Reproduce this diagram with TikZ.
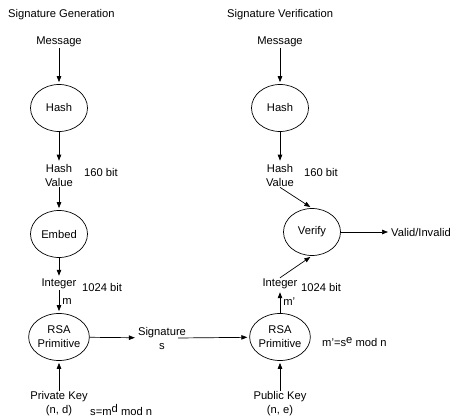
\documentclass[tikz,border=0pt]{standalone}
\usepackage{fontspec}
\setmainfont{Liberation Sans}
\usetikzlibrary{arrows.meta,shapes.geometric}

\begin{document}
\begin{tikzpicture}[
    x=1pt, y=-1pt,
    >={Triangle[length=6pt,width=4.5pt]},
    every node/.style={font=\fontsize{11.2}{14}\selectfont,align=center,inner sep=1pt},
    proc/.style={draw,ellipse,minimum width=57pt,minimum height=47pt,inner sep=0pt,line width=0.7pt},
    link/.style={->,line width=0.7pt,shorten >=2pt},
    note/.style={anchor=west},
]
\useasboundingbox (0,0) rectangle (460,419);

\node[note] (titleGen) at (7,15) {Signature Generation};
\node[note] (titleVer) at (226,15) {Signature Verification};

% Generation side
\node (msgA) at (59,42) {Message};
\node[proc] (hashA) at (59,108) {Hash};
\node (hvA) at (59,175) {Hash\\Value};
\node[proc] (embed) at (59,234) {Embed};
\node (intA) at (59,284) {Integer};
\node[proc] (rsaA) at (59,337) {RSA\\Primitive};
\node (privkey) at (59,404) {Private Key\\(n, d)};

\node[note] (bitsA) at (83,172) {160 bit};
\node[note] (wideA) at (81,287) {1024 bit};
\node[note] (signEq) at (89,410) {s=m\raisebox{3.5pt}{d} mod n};

\draw[link] (msgA) -- (hashA);
\draw[link] (hashA) -- (hvA);
\draw[link] (hvA) -- (embed);
\draw[link] (embed) -- (intA);
\draw[link] (intA) -- (rsaA) node[midway,right,inner sep=3pt] {m};
\draw[link] (privkey) -- (rsaA);

% Signature s
\node (sig) at (162,338) {Signature\\s};
\draw[link] (rsaA) -- (sig);

% Verification side
\node (msgB) at (280,42) {Message};
\node[proc] (hashB) at (280,108) {Hash};
\node (hvB) at (280,175) {Hash\\Value};
\node[proc] (verify) at (312,232) {Verify};
\node (intB) at (280,284) {Integer};
\node[proc] (rsaB) at (280,337) {RSA\\Primitive};
\node (pubkey) at (280,404) {Public Key\\(n, e)};
\node[note] (result) at (390,232) {Valid/Invalid};

\node[note] (bitsB) at (303,172) {160 bit};
\node[note] (wideB) at (300,287) {1024 bit};
\node[note] (verEq) at (321,342) {m'=s\raisebox{3.5pt}{e} mod n};

\draw[link] ([xshift=-9pt]sig.east) -- (rsaB);
\draw[link] (msgB) -- (hashB);
\draw[link] (hashB) -- (hvB);
\draw[link] (hvB.south) -- (verify.north);
\draw[link] (intB.north) -- (verify.south);
\draw[link] (rsaB) -- (intB) node[midway,right,inner sep=3pt] {m'};
\draw[link] (pubkey) -- (rsaB);
\draw[link] (verify) -- (result);
\end{tikzpicture}
\end{document}
